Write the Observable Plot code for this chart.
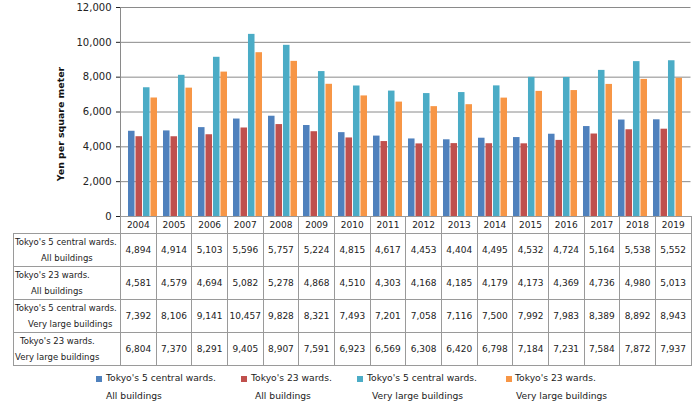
<!DOCTYPE html>
<html>
<head>
<meta charset="utf-8">
<script src="https://cdn.jsdelivr.net/npm/d3@7"></script>
<script src="https://cdn.jsdelivr.net/npm/@observablehq/plot@0.6"></script>
<style>
  html, body { margin: 0; padding: 0; background: #fff; }
  #wrap { position: relative; width: 700px; height: 407px; font-family: "DejaVu Sans", Verdana, sans-serif; color: #222; overflow: hidden; }
  #chart { position: absolute; left: 0; top: 0; }
  #ylabel { position: absolute; left: 60px; top: 124px; transform: translate(-50%, -50%) rotate(-90deg); font-weight: bold; font-size: 9.4px; white-space: nowrap; color: #111; }
  table { position: absolute; left: 13px; top: 216px; border-collapse: collapse; table-layout: fixed; width: 677.5px; font-size: 9px; }
  td { border: 1px solid #9a9a9a; padding: 0; text-align: center; white-space: nowrap; overflow: visible; }
  tr.head td { height: 16px; font-size: 9px; }
  tr.head td.blank { border: none; }
  tr.data td { height: 31px; }
  td.lab { text-align: left; font-size: 8.5px; vertical-align: top; }
  td.lab div { line-height: 16px; height: 16px; }
  .leg { position: absolute; font-size: 9.2px; white-space: nowrap; }
  .sw { position: absolute; width: 6px; height: 6px; }
</style>
</head>
<body>
<div id="wrap">
  <div id="chart"></div>
  <div id="ylabel"></div>
  <table id="tbl"></table>
  <div id="legend"></div>
</div>
<script>
const years = ["2004","2005","2006","2007","2008","2009","2010","2011","2012","2013","2014","2015","2016","2017","2018","2019"];
const central5All = [4894,4914,5103,5596,5757,5224,4815,4617,4453,4404,4495,4532,4724,5164,5538,5552];
const wards23All = [4581,4579,4694,5082,5278,4868,4510,4303,4168,4185,4179,4173,4369,4736,4980,5013];
const central5Large = [7392,8106,9141,10457,9828,8321,7493,7201,7058,7116,7500,7992,7983,8389,8892,8943];
const wards23Large = [6804,7370,8291,9405,8907,7591,6923,6569,6308,6420,6798,7184,7231,7584,7872,7937];
const seriesLine1 = ["Tokyo's 5 central wards.", "Tokyo's 23 wards.", "Tokyo's 5 central wards.", "Tokyo's 23 wards."];
const seriesLine2 = ["All buildings", "All buildings", "Very large buildings", "Very large buildings"];
const colors = ["#4f81bd", "#c0504d", "#4bacc6", "#f79646"];
const yTicks = [0, 2000, 4000, 6000, 8000, 10000, 12000];
const yLabel = "Yen per square meter";

const series = [central5All, wards23All, central5Large, wards23Large];

const width = 700, marginLeft = 120, marginRight = 9.5;
const padInner = 0.16, padOuter = 0.08;
const step = (width - marginLeft - marginRight) / (years.length - padInner + 2 * padOuter);
const bw = step * (1 - padInner);
const barW = bw / series.length;

const barMarks = series.map((vals, k) => Plot.barY(
  years.map((y, i) => ({year: y, value: vals[i]})),
  {x: "year", y: "value", fill: colors[k], insetLeft: k * barW, insetRight: (series.length - 1 - k) * barW}
));

const plot = Plot.plot({
  width, height: 233,
  marginLeft, marginRight, marginTop: 7, marginBottom: 17,
  style: {fontFamily: "DejaVu Sans, Verdana, sans-serif", fontSize: "10px", color: "#222", background: "transparent"},
  x: {domain: years, paddingInner: padInner, paddingOuter: padOuter, axis: null},
  y: {domain: [0, 12000], ticks: yTicks, tickFormat: d3.format(","), tickSize: 4, tickPadding: 5, label: null},
  marks: [
    Plot.ruleY(yTicks, {stroke: "#8a8a8a", strokeWidth: 1}),
    ...barMarks,
    Plot.frame({anchor: "left", stroke: "#8a8a8a"})
  ]
});
document.getElementById("chart").appendChild(plot);
document.getElementById("ylabel").textContent = yLabel;

// table
const tbl = document.getElementById("tbl");
const colg = document.createElement("colgroup");
colg.innerHTML = `<col style="width:107px">` + years.map(() => `<col style="width:${step}px">`).join("");
tbl.appendChild(colg);
const head = document.createElement("tr");
head.className = "head";
head.innerHTML = `<td class="blank"></td>` + years.map(y => `<td>${y}</td>`).join("");
tbl.appendChild(head);
const indents = [[1, 27], [1, 17], [1, 14], [6, 1]];
series.forEach((vals, k) => {
  const tr = document.createElement("tr");
  tr.className = "data";
  tr.innerHTML = `<td class="lab"><div style="padding-left:${indents[k][0]}px">${seriesLine1[k]}</div><div style="padding-left:${indents[k][1]}px">${seriesLine2[k]}</div></td>` +
    vals.map(v => `<td>${d3.format(",")(v)}</td>`).join("");
  tbl.appendChild(tr);
});

// legend
const legPos = [[96, 106, 106], [241, 251, 255], [357, 367, 372], [506, 515, 516]];
const leg = document.getElementById("legend");
series.forEach((_, k) => {
  const [sx, tx, tx2] = legPos[k];
  leg.insertAdjacentHTML("beforeend",
    `<div class="sw" style="left:${sx}px;top:376px;background:${colors[k]}"></div>` +
    `<div class="leg" style="left:${tx}px;top:372px">${seriesLine1[k]}</div>` +
    `<div class="leg" style="left:${tx2}px;top:390px">${seriesLine2[k]}</div>`);
});
</script>
</body>
</html>
